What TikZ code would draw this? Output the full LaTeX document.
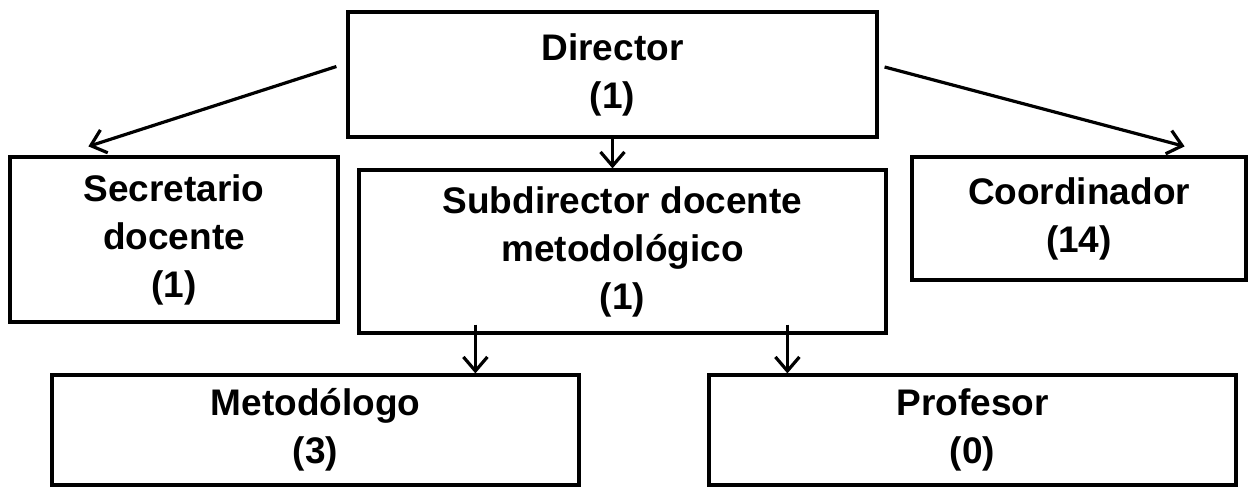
\documentclass[tikz,border=0pt]{standalone}
\usepackage{fontspec}
\setmainfont{Liberation Sans}
\usetikzlibrary{arrows.meta,calc}

\begin{document}
\begin{tikzpicture}[x=0.5pt,y=-0.5pt,
    caja/.style={draw, line width=1.6pt, align=center, inner sep=0pt,
        font=\bfseries\fontsize{18.5}{24}\selectfont},
    flecha/.style={-{Straight Barb[length=7pt,width=12pt]}, line width=1.6pt}]
    \useasboundingbox (0,0) rectangle (1249,487);
    %cajas
    \node[caja, minimum width=264.5pt, minimum height=62.5pt] (dir) at (612.5,74.5) {Director\\(1)};
    \node[caja, minimum width=164pt, minimum height=82.5pt] (sec) at (174,239.5) {Secretario\\docente\\(1)};
    \node[caja, minimum width=263.5pt, minimum height=81.5pt] (sub) at (622.5,251.5) {Subdirector docente\\metodológico\\(1)};
    \node[caja, minimum width=167pt, minimum height=61.5pt] (coo) at (1079,218.5) {Coordinador\\(14)};
    \node[caja, minimum width=263.5pt, minimum height=55pt] (met) at (315.5,430) {Metodólogo\\(3)};
    \node[caja, minimum width=263.5pt, minimum height=55pt] (pro) at (972.5,430) {Profesor\\(0)};
    %flechas
    \draw[flecha] ($(dir.west)+(-10,-8)$) -- ($(sec.north west)+(80,-9)$);
    \draw[flecha] ($(dir.east)+(6,-7.5)$) -- ($(coo.north east)+(-63,-9)$);
    \draw[flecha] (dir.south) -- (dir.south |- sub.north);
    \coordinate (s1) at ($(sub.south west)+(118,-10)$);
    \coordinate (s2) at ($(sub.south west)+(430,-10)$);
    \draw[flecha] (s1) -- (s1 |- met.north);
    \draw[flecha] (s2) -- (s2 |- pro.north);
\end{tikzpicture}
\end{document}
